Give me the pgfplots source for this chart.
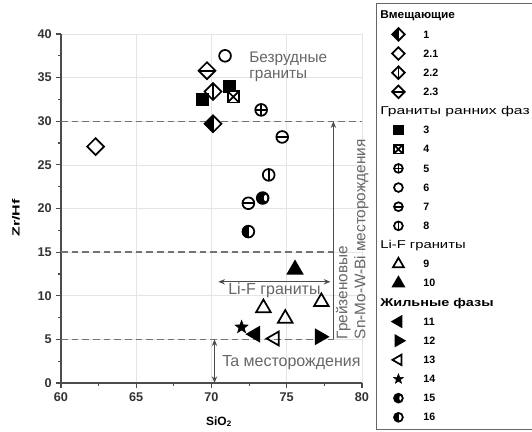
\documentclass[border=0pt]{standalone}
\usepackage{graphicx}
\usepackage{fontspec}
\setmainfont{Liberation Sans}
\usepackage{pgfplots}
\pgfplotsset{compat=1.18}
\usetikzlibrary{arrows.meta}

\newcommand\dpath{\pgfpathmoveto{\pgfqpoint{0pt}{\pgfplotmarksize}}\pgfpathlineto{\pgfqpoint{\pgfplotmarksize}{0pt}}\pgfpathlineto{\pgfqpoint{0pt}{-\pgfplotmarksize}}\pgfpathlineto{\pgfqpoint{-\pgfplotmarksize}{0pt}}\pgfpathclose}
\newcommand\cpath{\pgfpathcircle{\pgfpointorigin}{\pgfplotmarksize}}
\newcommand\mkvl{\pgfpathmoveto{\pgfqpoint{0pt}{\pgfplotmarksize}}\pgfpathlineto{\pgfqpoint{0pt}{-\pgfplotmarksize}}\pgfusepathqstroke}
\newcommand\mkhl{\pgfpathmoveto{\pgfqpoint{\pgfplotmarksize}{0pt}}\pgfpathlineto{\pgfqpoint{-\pgfplotmarksize}{0pt}}\pgfusepathqstroke}
\pgfdeclareplotmark{mOne}{\pgfsetfillcolor{white}\dpath\pgfusepathqfill
  \pgfsetfillcolor{black}\pgfpathmoveto{\pgfqpoint{0pt}{\pgfplotmarksize}}\pgfpathlineto{\pgfqpoint{-\pgfplotmarksize}{0pt}}\pgfpathlineto{\pgfqpoint{0pt}{-\pgfplotmarksize}}\pgfpathclose\pgfusepathqfill
  \dpath\pgfusepathqstroke\mkvl}
\pgfdeclareplotmark{mDia}{\pgfsetfillcolor{white}\dpath\pgfusepathqfillstroke}
\pgfdeclareplotmark{mDiaV}{\pgfsetfillcolor{white}\dpath\pgfusepathqfillstroke\mkvl}
\pgfdeclareplotmark{mDiaH}{\pgfsetfillcolor{white}\dpath\pgfusepathqfillstroke\mkhl}
\pgfdeclareplotmark{mSqX}{\pgfsetfillcolor{white}\pgfpathrectanglecorners{\pgfqpoint{-\pgfplotmarksize}{-\pgfplotmarksize}}{\pgfqpoint{\pgfplotmarksize}{\pgfplotmarksize}}\pgfusepathqfillstroke
  \pgfpathmoveto{\pgfqpoint{-\pgfplotmarksize}{-\pgfplotmarksize}}\pgfpathlineto{\pgfqpoint{\pgfplotmarksize}{\pgfplotmarksize}}
  \pgfpathmoveto{\pgfqpoint{-\pgfplotmarksize}{\pgfplotmarksize}}\pgfpathlineto{\pgfqpoint{\pgfplotmarksize}{-\pgfplotmarksize}}\pgfusepathqstroke}
\pgfdeclareplotmark{mOplus}{\pgfsetfillcolor{white}\cpath\pgfusepathqfillstroke\mkvl\mkhl}
\pgfdeclareplotmark{mCirc}{\pgfsetfillcolor{white}\cpath\pgfusepathqfillstroke}
\pgfdeclareplotmark{mCircH}{\pgfsetfillcolor{white}\cpath\pgfusepathqfillstroke\mkhl}
\pgfdeclareplotmark{mCircV}{\pgfsetfillcolor{white}\cpath\pgfusepathqfillstroke\mkvl}
\pgfdeclareplotmark{mFifteen}{\pgfsetfillcolor{black}\cpath\pgfusepathqfill
  \pgfsetfillcolor{white}\pgfpathellipse{\pgfqpoint{0.5\pgfplotmarksize}{0pt}}{\pgfqpoint{0.3\pgfplotmarksize}{0pt}}{\pgfqpoint{0pt}{0.55\pgfplotmarksize}}\pgfusepathqfill
  \cpath\pgfusepathqstroke}
\pgfdeclareplotmark{mSixteen}{\pgfsetfillcolor{white}\cpath\pgfusepathqfill
  \pgfsetfillcolor{black}\pgfpathmoveto{\pgfqpoint{0pt}{\pgfplotmarksize}}\pgfpatharc{90}{270}{\pgfplotmarksize}\pgfpathclose\pgfusepathqfill
  \cpath\pgfusepathqstroke\mkvl}
\pgfdeclareplotmark{mStar}{\pgfsetfillcolor{black}%
  \pgfpathmoveto{\pgfpointpolar{90}{\pgfplotmarksize}}%
  \pgfpathlineto{\pgfpointpolar{126}{0.42\pgfplotmarksize}}%
  \pgfpathlineto{\pgfpointpolar{162}{\pgfplotmarksize}}%
  \pgfpathlineto{\pgfpointpolar{198}{0.42\pgfplotmarksize}}%
  \pgfpathlineto{\pgfpointpolar{234}{\pgfplotmarksize}}%
  \pgfpathlineto{\pgfpointpolar{270}{0.42\pgfplotmarksize}}%
  \pgfpathlineto{\pgfpointpolar{306}{\pgfplotmarksize}}%
  \pgfpathlineto{\pgfpointpolar{342}{0.42\pgfplotmarksize}}%
  \pgfpathlineto{\pgfpointpolar{18}{\pgfplotmarksize}}%
  \pgfpathlineto{\pgfpointpolar{54}{0.42\pgfplotmarksize}}%
  \pgfpathclose\pgfusepathqfillstroke}

\newcommand\ttl[2]{\hspace*{-18.3pt}\resizebox{#1}{\height}{#2}}
\newcommand\num[1]{\hspace*{14pt}#1}

\begin{document}
\begin{tikzpicture}
\begin{axis}[
  at={(45.75pt,36.75pt)}, anchor=south west,
  scale only axis, width=225.75pt, height=261.75pt,
  xmin=60, xmax=80, ymin=0, ymax=40,
  axis lines=left, axis line style={-, draw=black!70, line width=1.4pt},
  xtick={60,65,...,80}, ytick={0,5,...,40},
  minor x tick num=1, minor y tick num=1,
  tick align=outside, major tick length=3.5pt, minor tick length=2pt,
  tick style={draw=black!70, line width=0.9pt},
  grid=major, major grid style={draw=black!10, line width=0.5pt},
  ticklabel style={font=\bfseries\fontsize{9.5}{11}\selectfont, text=black!80},
  /pgf/number format/assume math mode=true,
  every axis x label/.style={at={(axis description cs:0.525,0)}, anchor=center, yshift=-29pt},
  every axis y label/.style={at={(axis description cs:-0.1495,0.473)}, rotate=90, anchor=center},
  xlabel={\bfseries\fontsize{9}{10}\selectfont SiO\textsubscript{2}},
  ylabel={\resizebox{28pt}{\height}{\bfseries\fontsize{7.8}{9}\selectfont Zr/Hf}},
  clip=false,
  every axis plot/.append style={only marks, draw=black, line width=1.3pt},
  legend style={at={(1.0465,1.09)}, anchor=north west, draw=black!60, line width=0.6pt,
    inner xsep=8pt, inner ysep=2pt, font=\bfseries\fontsize{8}{9}\selectfont, row sep=0pt,
    nodes={inner sep=0pt, text height=9.9pt, text depth=4.46pt}},
  legend cell align=left,
  legend image post style={/tikz/every mark/.append style={scale=0.75}},
]
% reference lines
\draw[black!55, line width=1pt, dash pattern=on 5pt off 3pt] (axis cs:60,30) -- (axis cs:80,30);
\draw[black!55, line width=1pt, dash pattern=on 5pt off 3pt] (axis cs:60,15) -- (axis cs:78.4,15);
\draw[black!55, line width=1pt, dash pattern=on 5pt off 3pt] (axis cs:60,5) -- (axis cs:78.4,5);
\draw[black!70, line width=0.8pt, -{Stealth[length=5pt,width=4pt]}] (axis cs:78.1,5) -- (axis cs:78.1,30);
\draw[black!70, line width=0.8pt, {Stealth[length=5pt,width=4pt]}-{Stealth[length=5pt,width=4pt]}] (axis cs:70.45,11.6) -- (axis cs:77.9,11.6);
\draw[black!70, line width=0.8pt, {Stealth[length=5pt,width=4pt]}-{Stealth[length=5pt,width=4pt]}] (axis cs:70.2,0) -- (axis cs:70.2,5);
\node[anchor=west, text=black!60, font=\fontsize{11.5}{12.5}\selectfont, align=left, inner sep=0pt] at (axis cs:72.5,36.25) {Безрудные\\граниты};
\node[anchor=west, text=black!60, font=\fontsize{12}{13}\selectfont, inner sep=0pt] at (axis cs:71.1,10.6) {Li-F граниты};
\node[anchor=west, text=black!60, font=\fontsize{12}{13}\selectfont, inner sep=0pt] at (axis cs:70.7,2.3) {Ta месторождения};
\node[anchor=north west, rotate=90, text=black!60, font=\fontsize{11.5}{13.5}\selectfont, align=left, inner sep=0pt] at (axis cs:78.25,5) {Грейзеновые\\Sn-Mo-W-Bi месторождения};

\addlegendimage{empty legend}\addlegendentry{\ttl{56pt}{\fontsize{8.5}{9}\selectfont Вмещающие}}
\addplot[mark=mOne, mark size=6.3pt] coordinates {(70.1,29.7)};
\addlegendentry{\num{1}}
\addplot[mark=mDia, mark size=6.3pt] coordinates {(62.3,27.1)};
\addlegendentry{\num{2.1}}
\addplot[mark=mDiaV, mark size=6.3pt] coordinates {(70.1,33.4)};
\addlegendentry{\num{2.2}}
\addplot[mark=mDiaH, mark size=6.3pt] coordinates {(69.7,35.8)};
\addlegendentry{\num{2.3}}
\addlegendimage{empty legend}\addlegendentry{\ttl{112pt}{\mdseries\fontsize{8.5}{9}\selectfont Граниты ранних фаз}}
\addplot[mark=square*, mark size=4.4pt, mark options={fill=black}] coordinates {(69.4,32.5) (71.2,34.0)};
\addlegendentry{\num{3}}
\addplot[mark=mSqX, mark size=4.2pt] coordinates {(71.45,32.8)};
\addlegendentry{\num{4}}
\addplot[mark=mOplus, mark size=4.4pt] coordinates {(73.3,31.3)};
\addlegendentry{\num{5}}
\addplot[mark=mCirc, mark size=4.4pt] coordinates {(70.9,37.5)};
\addlegendentry{\num{6}}
\addplot[mark=mCircH, mark size=4.4pt] coordinates {(74.7,28.2) (72.45,20.6)};
\addlegendentry{\num{7}}
\addplot[mark=mCircV, mark size=4.4pt] coordinates {(73.8,23.85)};
\addlegendentry{\num{8}}
\addlegendimage{empty legend}\addlegendentry{\ttl{64pt}{\mdseries\fontsize{8.5}{9}\selectfont Li-F граниты}}
\addplot[mark=triangle, mark size=6.3pt, mark options={fill=white}] coordinates {(73.45,8.6) (74.9,7.4) (77.3,9.3)};
\addlegendentry{\num{9}}
\addplot[mark=triangle*, mark size=6.3pt, mark options={fill=black}] coordinates {(75.55,13.0)};
\addlegendentry{\num{10}}
\addlegendimage{empty legend}\addlegendentry{\ttl{85pt}{\fontsize{8.5}{9}\selectfont Жильные фазы}}
\addplot[mark=triangle*, mark size=6pt, mark options={fill=black, rotate=90}] coordinates {(72.9,5.6)};
\addlegendentry{\num{11}}
\addplot[mark=triangle*, mark size=6pt, mark options={fill=black, rotate=-90}] coordinates {(77.2,5.3)};
\addlegendentry{\num{12}}
\addplot[mark=triangle, mark size=6pt, mark options={fill=white, rotate=90}] coordinates {(74.2,5.1)};
\addlegendentry{\num{13}}
\addplot[mark=mStar, mark size=5pt, line width=0.5pt] coordinates {(72.0,6.4)};
\addlegendentry{\num{14}}
\addplot[mark=mFifteen, mark size=4.4pt] coordinates {(73.4,21.2)};
\addlegendentry{\num{15}}
\addplot[mark=mSixteen, mark size=4.4pt] coordinates {(72.45,17.35)};
\addlegendentry{\num{16}}
\end{axis}
\pgfresetboundingbox
\path[use as bounding box] (0,0) rectangle (399pt,324pt);
\end{tikzpicture}
\end{document}
